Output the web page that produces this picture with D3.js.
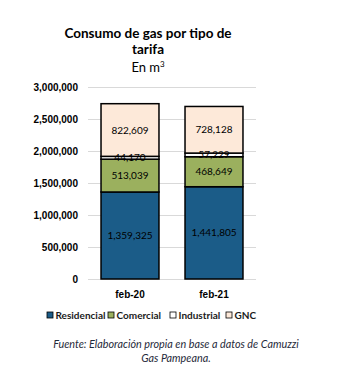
<!DOCTYPE html>
<html><head><meta charset="utf-8">
<script src="https://cdn.jsdelivr.net/npm/d3@7"></script>
<style>body{margin:0;background:#fff;}svg{display:block;font-family:Lato,"Open Sans",sans-serif;}</style>
</head><body><svg id="c" width="348" height="386"></svg>
<script>
const categories = ["feb-20", "feb-21"];
const seriesNames = ["Residencial", "Comercial", "Industrial", "GNC"];
const residencial = [1359325, 1441805];
const comercial = [513039, 468649];
const industrial = [44170, 57229];
const gnc = [822609, 728128];
const yTicks = [0, 500000, 1000000, 1500000, 2000000, 2500000, 3000000];
const colors = ["#1b5c88", "#9bb05e", "#ffffff", "#fde9d9"];

const svg = d3.select("#c");
const data = categories.map((c, i) => ({cat: c, Residencial: residencial[i], Comercial: comercial[i], Industrial: industrial[i], GNC: gnc[i]}));
const stack = d3.stack().keys(seriesNames)(data);

const x = d3.scaleBand().domain(categories).range([88, 256]).paddingInner(0.31).paddingOuter(0.155);
const y = d3.scaleLinear().domain([0, 3000000]).range([279, 87]);
const fmt = d3.format(",");

// title
svg.append("text").attr("x", 148).attr("y", 38).attr("text-anchor", "middle").attr("font-size", 13.5).attr("font-weight", "bold").text("Consumo de gas por tipo de");
svg.append("text").attr("x", 148).attr("y", 54).attr("text-anchor", "middle").attr("font-size", 13.5).attr("font-weight", "bold").text("tarifa");
const st = svg.append("text").attr("x", 148).attr("y", 72).attr("text-anchor", "middle").attr("font-size", 13);
st.append("tspan").text("En m");
st.append("tspan").attr("font-size", 8).attr("dy", -5).text("3");

// grid
const yAxis = d3.axisLeft(y).tickValues(yTicks).tickFormat(d => fmt(d)).tickSize(-168).tickPadding(10);
const gy = svg.append("g").attr("transform", "translate(88,0)").call(yAxis);
gy.select(".domain").remove();
gy.selectAll(".tick line").attr("stroke", "#d9d9d9");
gy.selectAll(".tick text").attr("font-size", 10).attr("font-weight", "bold").attr("fill", "#000");

// bars
const layers = svg.append("g").selectAll("g").data(stack).join("g").attr("fill", (d, i) => colors[i]);
layers.selectAll("rect").data(d => d).join("rect")
  .attr("x", d => x(d.data.cat)).attr("width", x.bandwidth())
  .attr("y", d => y(d[1])).attr("height", d => y(d[0]) - y(d[1]))
  .attr("stroke", "#000").attr("stroke-width", 1.5);

// labels
stack.forEach((s, si) => {
  svg.append("g").selectAll("text").data(s).join("text")
    .attr("x", d => x(d.data.cat) + x.bandwidth() / 2)
    .attr("y", d => (y(d[0]) + y(d[1])) / 2 + 3.5)
    .attr("text-anchor", "middle").attr("font-size", 10).attr("fill", "#000")
    .text(d => fmt(d[1] - d[0]));
});

// x axis
const gx = svg.append("g").attr("transform", "translate(0,279)").call(d3.axisBottom(x).tickSize(0).tickPadding(12));
gx.select(".domain").remove();
gx.selectAll("text").attr("font-size", 10).attr("font-weight", "bold").attr("fill", "#000");

// legend
const legX = [47, 108, 170, 226];
const lg = svg.append("g").selectAll("g").data(seriesNames).join("g").attr("transform", (d, i) => `translate(${legX[i]},312)`);
lg.append("rect").attr("width", 6).attr("height", 6).attr("fill", (d, i) => colors[i]).attr("stroke", "#000").attr("stroke-width", 0.8);
lg.append("text").attr("x", 8.5).attr("y", 6.5).attr("font-size", 10).attr("font-weight", "bold").attr("fill", "#1a1a1a").text(d => d);

// caption
svg.append("text").attr("x", 176).attr("y", 348).attr("text-anchor", "middle").attr("font-size", 10.8).attr("font-style", "italic").attr("fill", "#1f2a3a").text("Fuente: Elaboración propia en base a datos de Camuzzi");
svg.append("text").attr("x", 176).attr("y", 362).attr("text-anchor", "middle").attr("font-size", 10.8).attr("font-style", "italic").attr("fill", "#1f2a3a").text("Gas Pampeana.");
</script></body></html>
